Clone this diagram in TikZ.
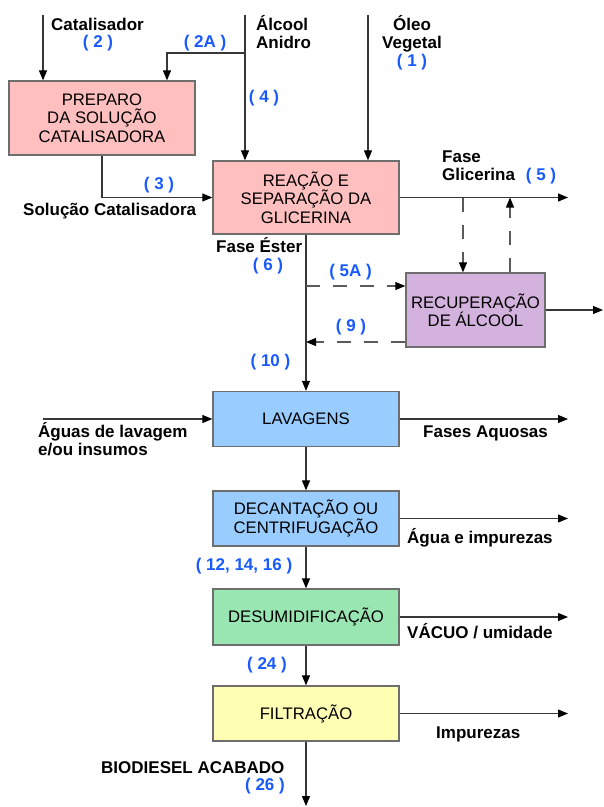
\documentclass[tikz,border=0pt]{standalone}
\usepackage{fontspec}
\setmainfont{Liberation Sans}
\usetikzlibrary{arrows.meta}
\definecolor{pinkbox}{RGB}{255,191,191}
\definecolor{purplebox}{RGB}{212,178,222}
\definecolor{bluebox}{RGB}{153,204,255}
\definecolor{greenbox}{RGB}{153,230,179}
\definecolor{yellowbox}{RGB}{255,255,179}
\definecolor{boxline}{RGB}{110,110,110}
\definecolor{linegray}{RGB}{55,55,55}
\definecolor{dashgray}{RGB}{90,90,90}
\definecolor{numblue}{RGB}{25,90,255}
\begin{document}
\begin{tikzpicture}[x=1pt,y=-1pt,
  box/.style={draw=boxline, line width=1.3pt, minimum width=186pt, align=center, inner sep=0pt,
    font=\fontsize{16.7}{18.5}\selectfont},
  lbl/.style={font=\fontsize{17}{18}\selectfont\bfseries, inner sep=0pt},
  num/.style={lbl, text=numblue},
  flow/.style={draw=linegray, line width=1.1pt, -{Triangle[length=10pt,width=8pt,color=black]}},
  dflow/.style={flow, draw=dashgray, dash pattern=on 14pt off 13pt}]
\useasboundingbox (0,0) rectangle (604,807);
\fill[white] (0,0) rectangle (604,807);

% boxes
\node[box, fill=pinkbox, minimum height=74pt] (prep) at (102,118) {PREPARO\\DA SOLUÇÃO\\CATALISADORA};
\node[box, fill=pinkbox, minimum height=73pt] (reac) at (306,197.5) {REAÇÃO E\\SEPARAÇÃO DA\\GLICERINA};
\node[box, fill=purplebox, minimum width=139pt, minimum height=74pt] (rec) at (475.5,310) {RECUPERAÇÃO\\DE ÁLCOOL};
\node[box, fill=bluebox, minimum height=55pt] (lav) at (306,419) {LAVAGENS};
\node[box, fill=bluebox, minimum height=55pt] (dec) at (306,518.5) {DECANTAÇÃO OU\\CENTRIFUGAÇÃO};
\node[box, fill=greenbox, minimum height=56pt] (des) at (306,617) {DESUMIDIFICAÇÃO};
\node[box, fill=yellowbox, minimum height=55pt] (fil) at (306,713.5) {FILTRAÇÃO};

% free ends
\coordinate (catin) at (43,15);
\coordinate (alcin) at (245,15);
\coordinate (alcbr) at (245,53);
\coordinate (alcturn) at (167,53);
\coordinate (oleoin) at (368,15);
\coordinate (glicout) at (568,197.5);
\coordinate (gdown) at (463,197.5);
\coordinate (gup) at (510,197.5);
\coordinate (recout) at (603,310);
\coordinate (j5a) at (306,286);
\coordinate (j9) at (306,342);
\coordinate (lavin) at (43,419);
\coordinate (lavout) at (568,419);
\coordinate (decout) at (568,518.5);
\coordinate (desout) at (568,617);
\coordinate (filout) at (568,713.5);
\coordinate (bioout) at (306,806);

% connectors
\draw[flow] (catin) -- (catin |- prep.north);
\draw[flow] (alcin) -- (reac.north -| alcin);
\draw[flow] (alcbr) -- (alcturn) -- (alcturn |- prep.north);
\draw[flow] (oleoin) -- (reac.north -| oleoin);
\draw[flow] (prep.south) |- (reac.west);
\draw[flow] (reac.east) -- (glicout);
\draw[dflow] (gdown) -- (gdown |- rec.north);
\draw[dflow] (rec.north -| gup) -- (gup);
\draw[flow] (rec.east) -- (recout);
\draw[flow] (reac.south) -- (lav.north);
\draw[dflow] (j5a) -- (j5a -| rec.west);
\draw[dflow] (rec.west |- j9) -- (j9);
\draw[flow] (lavin) -- (lav.west);
\draw[flow] (lav.east) -- (lavout);
\draw[flow] (lav.south) -- (dec.north);
\draw[flow] (dec.east) -- (decout);
\draw[flow] (dec.south) -- (des.north);
\draw[flow] (des.east) -- (desout);
\draw[flow] (des.south) -- (fil.north);
\draw[flow] (fil.east) -- (filout);
\draw[flow] (fil.south) -- (bioout);

% labels
\node[lbl, anchor=base west] (tcat) at (51,30) {Catalisador};
\node[num, anchor=base] (n2) at (98,47) {( 2 )};
\node[lbl, anchor=base west] (talc1) at (256,30) {Álcool};
\node[lbl, anchor=base west] (talc2) at (256,48) {Anidro};
\node[num, anchor=base] (n2a) at (205,47) {( 2A )};
\node[num, anchor=base] (n4) at (264,102) {( 4 )};
\node[lbl, anchor=base] (toleo1) at (412,30) {Óleo};
\node[lbl, anchor=base] (toleo2) at (412,48) {Vegetal};
\node[num, anchor=base] (n1) at (412,66) {( 1 )};
\node[num, anchor=base] (n3) at (159,189) {( 3 )};
\node[lbl, anchor=base west] (tsol) at (23,215) {Solução Catalisadora};
\node[lbl, anchor=base west] (tfg1) at (442,162) {Fase};
\node[lbl, anchor=base west] (tfg2) at (442,180) {Glicerina};
\node[num, anchor=base] (n5) at (541,180) {( 5 )};
\node[lbl, anchor=base west] (tfe) at (216,252) {Fase Éster};
\node[num, anchor=base] (n6) at (268,270) {( 6 )};
\node[num, anchor=base] (n5a) at (350.5,276) {( 5A )};
\node[num, anchor=base] (n9) at (351,331) {( 9 )};
\node[num, anchor=base] (n10) at (270.5,366) {( 10 )};
\node[lbl, anchor=base west] (tag1) at (38,437) {Águas de lavagem};
\node[lbl, anchor=base west] (tag2) at (38,455) {e/ou insumos};
\node[lbl, anchor=base west] (tfa) at (423,437) {Fases Aquosas};
\node[lbl, anchor=base west] (tai) at (407,543) {Água e impurezas};
\node[num, anchor=base] (n12) at (244,570) {( 12, 14, 16 )};
\node[lbl, anchor=base west] (tvac) at (407,638) {VÁCUO / umidade};
\node[num, anchor=base] (n24) at (267,669) {( 24 )};
\node[lbl, anchor=base west] (timp) at (436,738) {Impurezas};
\node[lbl, anchor=base west] (tbio) at (101,773) {BIODIESEL ACABADO};
\node[num, anchor=base] (n26) at (265,790) {( 26 )};
\end{tikzpicture}
\end{document}
